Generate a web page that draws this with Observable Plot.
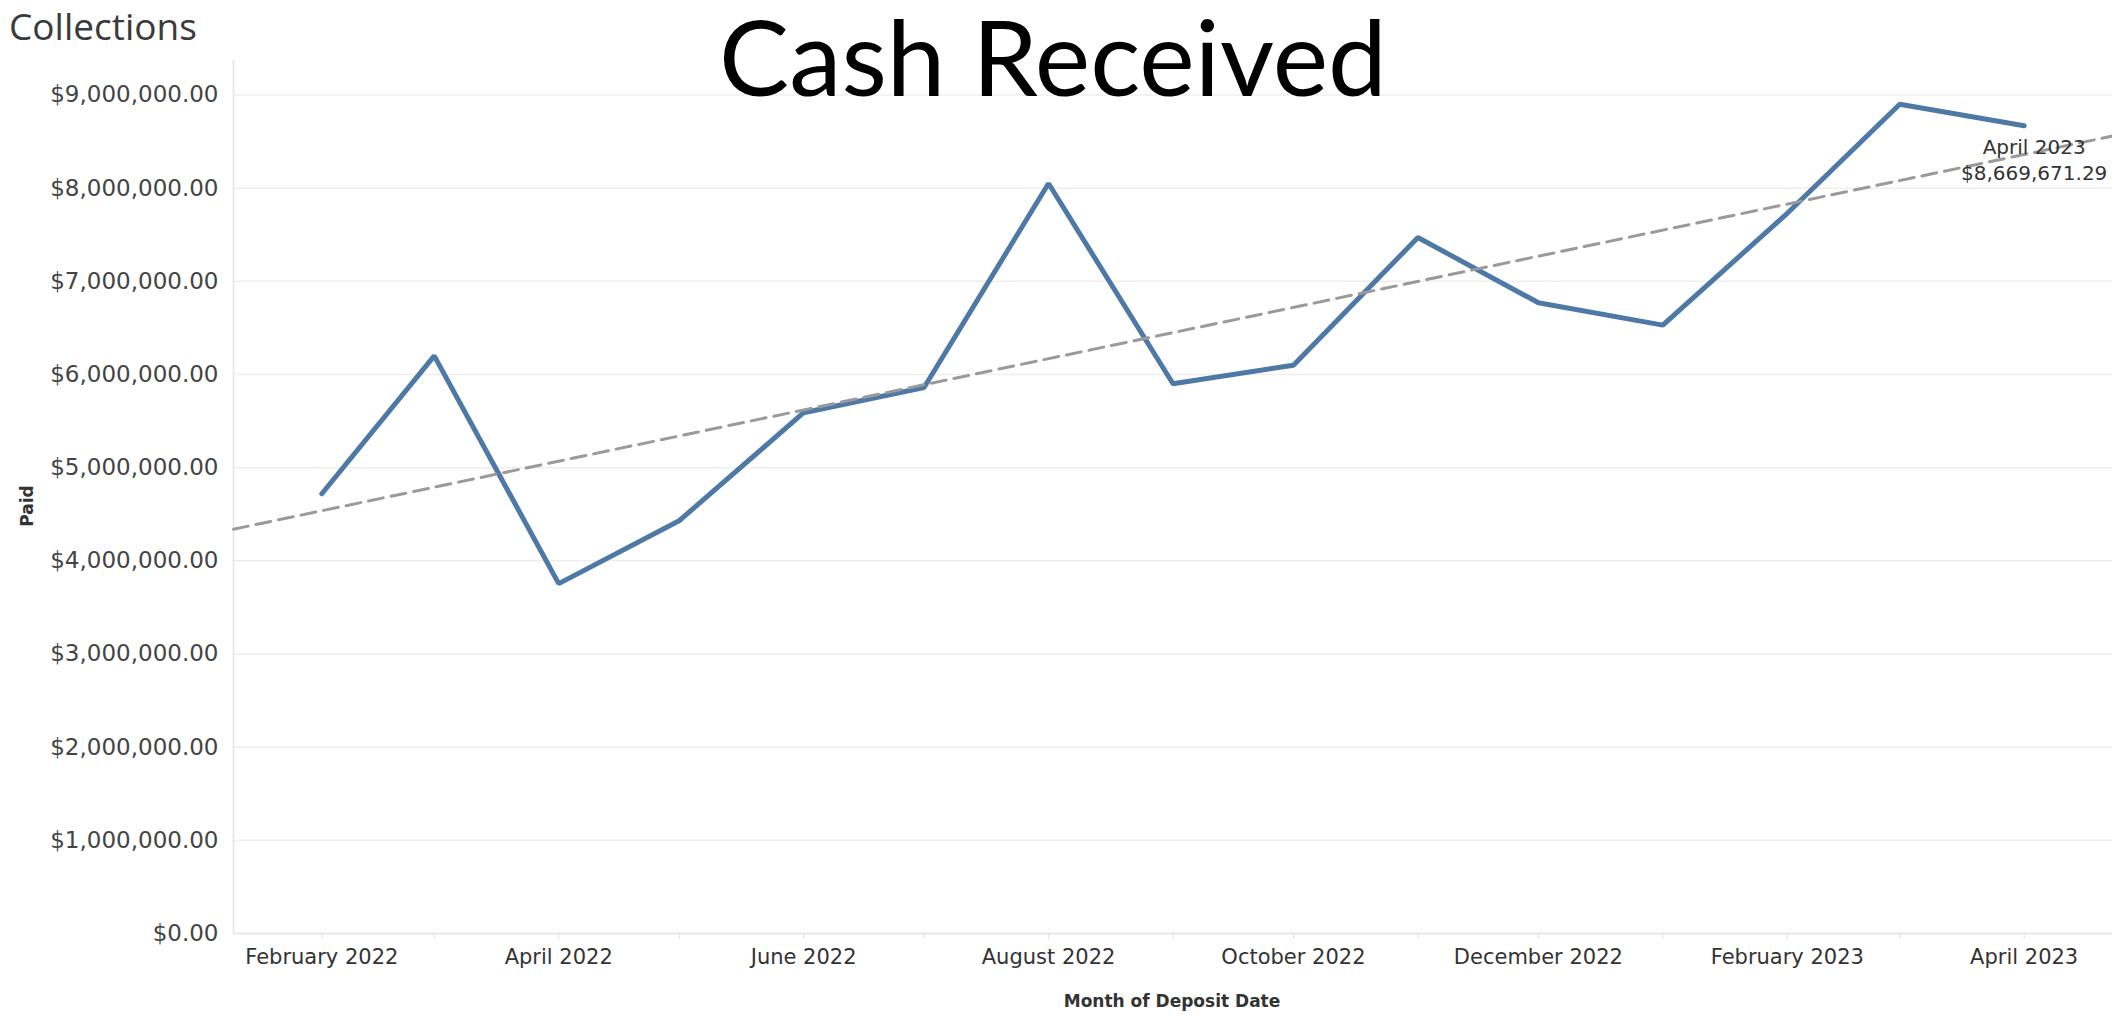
<!DOCTYPE html>
<html>
<head>
<meta charset="utf-8">
<script src="https://cdn.jsdelivr.net/npm/d3@7"></script>
<script src="https://cdn.jsdelivr.net/npm/@observablehq/plot@0.6"></script>
<style>
  html, body { margin: 0; padding: 0; background: #fff; }
  #wrap { position: relative; width: 2112px; height: 1016px; overflow: hidden; }
  #wrap svg { position: absolute; left: 0; top: 0; }
  .ov { position: absolute; white-space: nowrap; line-height: 1; }
</style>
</head>
<body>
<div id="wrap">
  <div class="ov" id="sheet" style="left:9px;top:7px;font-family:'Open Sans';font-size:37px;color:#3a3a3a;">Collections</div>
  <div class="ov" id="big" style="left:1053px;top:3px;transform:translateX(-50%);font-family:Lato;font-size:105px;color:#000;">Cash Received</div>
  <div class="ov" id="ylab" style="left:27px;top:506px;transform:translate(-50%,-50%) rotate(-90deg);font-family:'DejaVu Sans';font-weight:bold;font-size:17px;color:#333;">Paid</div>
  <div class="ov" id="xlab" style="left:1172px;top:1001px;transform:translate(-50%,-50%);font-family:'DejaVu Sans';font-weight:bold;font-size:17px;color:#333;">Month of Deposit Date</div>
</div>
<script>
// ---- data ----
const months = ["2022-02-01","2022-03-01","2022-04-01","2022-05-01","2022-06-01","2022-07-01","2022-08-01","2022-09-01","2022-10-01","2022-11-01","2022-12-01","2023-01-01","2023-02-01","2023-03-01","2023-04-01"];
const paid = [4720000, 6200000, 3755000, 4430000, 5590000, 5860000, 8050000, 5900000, 6100000, 7470000, 6770000, 6530000, 7730000, 8900000, 8669671.29];
const yTicks = [0, 1000000, 2000000, 3000000, 4000000, 5000000, 6000000, 7000000, 8000000, 9000000];
const xDomain = ["2022-01-10", "2023-04-23"];
const annotation = { month: "2023-04-01", label: "April 2023" };

// ---- build ----
const data = months.map((m, i) => ({ date: new Date(m + "T00:00:00Z"), paid: paid[i] }));
const domain = xDomain.map(d => new Date(d + "T00:00:00Z"));

// least squares trend over date
const xs = data.map(d => +d.date), ys = data.map(d => d.paid);
const mx = d3.mean(xs), my = d3.mean(ys);
const slope = d3.sum(xs.map((x, i) => (x - mx) * (ys[i] - my))) / d3.sum(xs.map(x => (x - mx) ** 2));
const trend = domain.map(d => ({ date: d, paid: my + slope * (+d - mx) }));

const monthTicks = d3.utcMonth.range(new Date("2022-02-01T00:00:00Z"), new Date("2023-04-02T00:00:00Z"));
const fmtMonth = d3.utcFormat("%B %Y");
const fmtMoney = d => "$" + d3.format(",.2f")(d);

const last = data.find(d => +d.date === +new Date(annotation.month + "T00:00:00Z"));

const chart = Plot.plot({
  width: 2112,
  height: 1016,
  marginLeft: 233,
  marginRight: 0,
  marginTop: 60,
  marginBottom: 83,
  style: { fontFamily: "DejaVu Sans", fontSize: "21px", color: "#444", background: "transparent", overflow: "visible" },
  x: { type: "utc", domain },
  y: { domain: [0, 9370000] },
  marks: [
    Plot.gridY(yTicks, { stroke: "#000", strokeOpacity: 0.065, strokeWidth: 1.5 }),
    Plot.ruleX([domain[0]], { stroke: "#e4e4e4", strokeWidth: 1.5 }),
    Plot.ruleY([0], { stroke: "#e4e4e4", strokeWidth: 1.5 }),
    Plot.axisY(yTicks, { tickSize: 0, tickPadding: 15, tickFormat: fmtMoney, label: null, fill: "#444", fontSize: 23 }),
    Plot.axisX(monthTicks, { tickSize: 6, tickPadding: 10, stroke: "#e0e0e0", fill: "#333",
      tickFormat: d => d.getUTCMonth() % 2 === 1 ? fmtMonth(d) : "", label: null }),
    Plot.line(data, { x: "date", y: "paid", stroke: "#4e79a7", strokeWidth: 5, strokeLinejoin: "miter", strokeLinecap: "round" }),
    Plot.line(trend, { x: "date", y: "paid", stroke: "#9a9a9a", strokeWidth: 3, strokeDasharray: "15,8" }),
    Plot.text([last], { x: "date", y: "paid", text: () => annotation.label, dy: 22, dx: 10, fill: "#333", fontSize: 20 }),
    Plot.text([last], { x: "date", y: "paid", text: d => fmtMoney(d.paid), dy: 48, dx: 10, fill: "#333", fontSize: 20 })
  ]
});
document.getElementById("wrap").prepend(chart);
</script>
</body>
</html>
